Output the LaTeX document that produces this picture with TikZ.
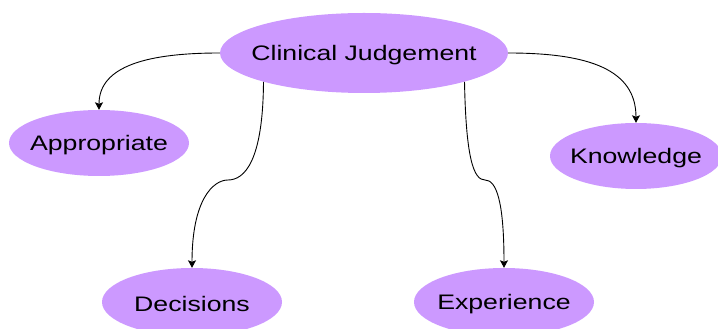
\documentclass[tikz,border=0pt]{standalone}
\usepackage{fontspec}
\setmainfont{Liberation Sans}
\usetikzlibrary{shapes.geometric,arrows.meta}
\definecolor{bubble}{RGB}{204,153,255}
\tikzset{
  bubble/.style={ellipse, fill=bubble, draw=none, inner sep=0pt},
  caption/.style={inner sep=0pt, yshift=-2pt, font=\fontsize{21}{25}\selectfont},
  link/.style={draw=black, line width=0.9pt,
    -{Stealth[length=7.5pt,width=8pt,inset=1.5pt]}},
}
\newcommand{\wide}[1]{\scalebox{1.27}[1]{#1}}
\begin{document}
\begin{tikzpicture}[x=1pt,y=1pt]
  \useasboundingbox (0,0) rectangle (718,329);
  % concept bubbles
  \node[bubble, minimum width=288pt, minimum height=80pt] (cj)  at (364,276) {};
  \node[bubble, minimum width=180pt, minimum height=66pt] (app) at (99,186)  {};
  \node[bubble, minimum width=172pt, minimum height=66pt] (kn)  at (636,173) {};
  \node[bubble, minimum width=180pt, minimum height=68pt] (dec) at (192,27)  {};
  \node[bubble, minimum width=180pt, minimum height=68pt] (exp) at (504,27)  {};
  % their captions
  \node[caption] (cjt)  at (cj)  {\wide{Clinical Judgement}};
  \node[caption] (appt) at (app) {\wide{Appropriate}};
  \node[caption] (knt)  at (kn)  {\wide{Knowledge}};
  \node[caption] (dect) at (dec) {\wide{Decisions}};
  \node[caption] (expt) at (exp) {\wide{Experience}};
  % curved connectors
  \draw[link] (cj.west) .. controls (150,276) and (99,264) .. (app.north);
  \draw[link] (cj.east) .. controls (590,276) and (636,259) .. (kn.north);
  \draw[link] (cj.196) .. controls (263,169) and (245,149) .. (228,149)
                       .. controls (213,149) and (192,129) .. (dec.north);
  \draw[link] (cj.-16) .. controls (466,169) and (474,149) .. (485,149)
                       .. controls (496,149) and (504,129) .. (exp.north);
\end{tikzpicture}
\end{document}
